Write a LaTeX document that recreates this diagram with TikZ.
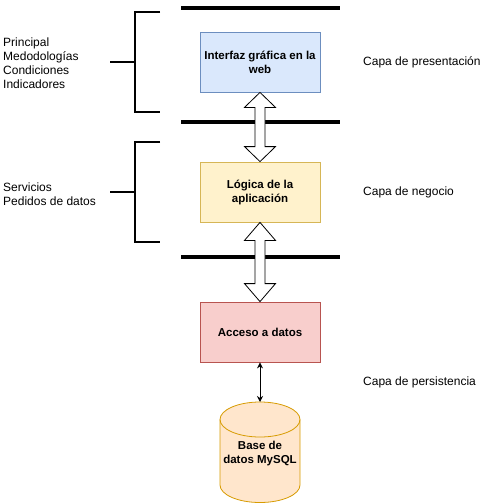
\documentclass[tikz,border=0pt]{standalone}
\usepackage{fontspec}
\setmainfont{Liberation Sans}
\usepackage{tikz}
\usetikzlibrary{shapes,arrows.meta,positioning,calc}
\definecolor{webblue}{HTML}{DAE8FC}
\definecolor{webborder}{HTML}{6C8EBF}
\definecolor{logicyellow}{HTML}{FFF2CC}
\definecolor{logicborder}{HTML}{D6B656}
\definecolor{accessred}{HTML}{F8CECC}
\definecolor{accessborder}{HTML}{B85450}
\definecolor{dborange}{HTML}{FFE6CC}
\definecolor{dbborder}{HTML}{D79B00}

\begin{document}
\begin{tikzpicture}[
    x=1pt, y=-1pt,
    font=\fontsize{12}{14}\selectfont,
    % layer boxes
    box/.style={rectangle, minimum width=120pt, minimum height=60pt, inner xsep=1pt, align=center, font=\fontsize{11.5}{14}\selectfont\bfseries, line width=0.8pt},
    web/.style={box, draw=webborder, fill=webblue},
    logic/.style={box, draw=logicborder, fill=logicyellow},
    access/.style={box, draw=accessborder, fill=accessred},
    database/.style={rectangle, inner sep=0pt, align=center, font=\fontsize{11.5}{14}\selectfont\bfseries},
    dbshape/.style={draw=dbborder, fill=dborange, line width=0.8pt},
    label/.style={inner sep=0pt, align=left, anchor=west},
    bar/.style={line width=4pt},
    bracket/.style={line width=1.5pt},
    flexarrow/.style={draw=black, fill=white, line width=0.8pt, line join=miter},
    thinarrow/.style={{Stealth[length=6pt,width=6pt]}-{Stealth[length=6pt,width=6pt]}, line width=1pt}
]
\useasboundingbox (0,0) rectangle (502,503);

% Separator bars
\draw [bar] (181,8) -- (340,8);
\draw [bar] (181,122) -- (340,122);
\draw [bar] (181,257) -- (340,257);

% Layers
\node [web] (gui) at (260,62) {Interfaz gráfica en la\\web};
\node [logic] (app) at (260,192) {Lógica de la\\aplicación};
\node [access] (acc) at (260,332) {Acceso a datos};

% Database cylinder
\coordinate (dbc) at (260,452);
\coordinate (dbtop) at (260,402);
\draw [dbshape] ($(dbc)+(-40,-32.5)$) -- ++(0,65.5) arc[start angle=180, end angle=0, x radius=40, y radius=17.5] -- ++(0,-65.5) arc[start angle=0, end angle=-180, x radius=40, y radius=17.5] -- cycle;
\draw [dbshape, fill=none] ($(dbc)+(-40,-32.5)$) arc[start angle=180, end angle=0, x radius=40, y radius=17.5];
\node [database] (db) at (260,454) {Base de\\datos MySQL};

% Layer names
\node [label] (pres) at (363,62) {Capa de presentación};
\node [label] (neg) at (363,192) {Capa de negocio};
\node [label] (pers) at (363,382) {Capa de persistencia};

% Modules
\node [label] (mods) at (3,63) {Principal\\Medodologías\\Condiciones\\Indicadores};
\node [label] (serv) at (3,194) {Servicios\\Pedidos de datos};

% Brackets
\draw [bracket] (160,12) -- (135,12) -- (135,112) -- (160,112);
\draw [bracket] (110,62) -- (135,62);
\draw [bracket] (160,142) -- (135,142) -- (135,242) -- (160,242);
\draw [bracket] (110,192) -- (135,192);

% Hollow double arrows
\draw [flexarrow] (gui.south) -- ++(15.5,15) -- ++(-10.5,0) -- ($(app.north)+(5,-15)$) -- ++(10.5,0) -- (app.north) -- ++(-15.5,-15) -- ++(10.5,0) -- ($(gui.south)+(-5,15)$) -- ++(-10.5,0) -- cycle;
\draw [flexarrow] (app.south) -- ++(15.5,18) -- ++(-10.5,0) -- ($(acc.north)+(5,-18)$) -- ++(10.5,0) -- (acc.north) -- ++(-15.5,-18) -- ++(10.5,0) -- ($(app.south)+(-5,18)$) -- ++(-10.5,0) -- cycle;

% Data access
\draw [thinarrow] (acc) -- (dbtop);

\end{tikzpicture}
\end{document}
